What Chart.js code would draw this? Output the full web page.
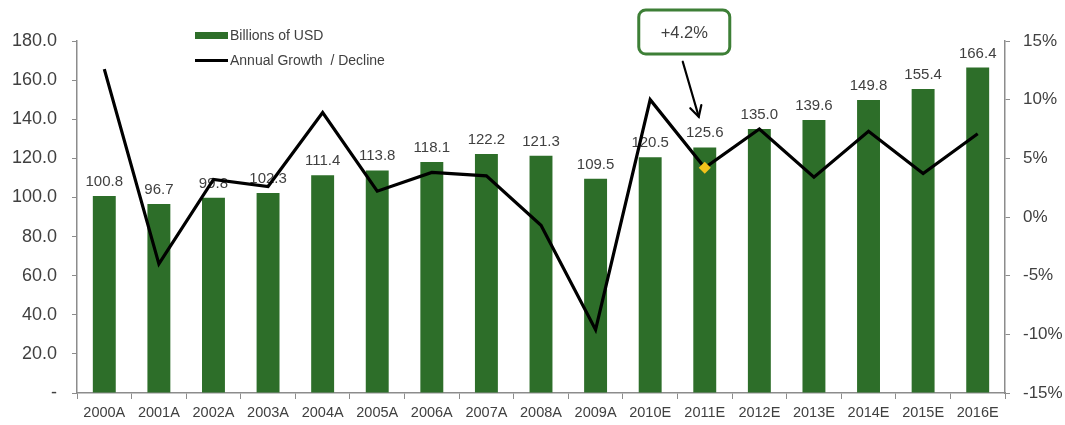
<!DOCTYPE html>
<html>
<head>
<meta charset="utf-8">
<script src="https://cdn.jsdelivr.net/npm/chart.js@4/dist/chart.umd.min.js"></script>
<style>
  html, body { margin: 0; padding: 0; background: #ffffff; }
  #wrap { width: 1065px; height: 425px; }
</style>
</head>
<body>
<div id="wrap"><canvas id="chart" width="1065" height="425"></canvas></div>
<script>
// Market size by year (A = actual, E = estimate)
const years = ['2000A','2001A','2002A','2003A','2004A','2005A','2006A','2007A','2008A',
               '2009A','2010E','2011E','2012E','2013E','2014E','2015E','2016E'];
const billionsUSD = [100.8, 96.7, 99.8, 102.3, 111.4, 113.8, 118.1, 122.2, 121.3,
                     109.5, 120.5, 125.6, 135.0, 139.6, 149.8, 155.4, 166.4];
const growthPct = [12.6, -4.0, 3.2, 2.6, 8.9, 2.2, 3.8, 3.5, -0.7,
                   -9.6, 10.0, 4.2, 7.5, 3.4, 7.3, 3.7, 7.1];
const highlightIndex = 11;
const leftTicks = [0, 20, 40, 60, 80, 100, 120, 140, 160, 180];
const rightTicks = [-15, -10, -5, 0, 5, 10, 15];

const GREEN = '#2d6e29';
const TEXT = '#404040';
const AXIS = '#8c8c8c';
const FONT = '"Liberation Sans", Arial, sans-serif';

// Value labels above each bar (drawn before the line so the line sits on top)
const barLabels = {
  id: 'barLabels',
  afterDatasetDraw(chart, args) {
    if (args.index !== 0) return;
    const ctx = chart.ctx;
    ctx.save();
    ctx.font = '15px ' + FONT;
    ctx.fillStyle = TEXT;
    ctx.textAlign = 'center';
    ctx.textBaseline = 'alphabetic';
    args.meta.data.forEach((bar, i) => {
      ctx.fillText(billionsUSD[i].toFixed(1), bar.x, bar.y - 10);
    });
    ctx.restore();
  }
};

// Legend in the upper left of the plot
const legendBox = {
  id: 'legendBox',
  afterDraw(chart) {
    const ctx = chart.ctx;
    ctx.save();
    ctx.font = '14px ' + FONT;
    ctx.textBaseline = 'middle';
    ctx.textAlign = 'left';
    ctx.fillStyle = GREEN;
    ctx.fillRect(195, 32, 33, 7);
    ctx.fillStyle = '#000';
    ctx.fillRect(195, 59, 33, 3);
    ctx.fillStyle = TEXT;
    ctx.fillText('Billions of USD', 230, 36);
    ctx.fillText('Annual Growth  / Decline', 230, 61);
    ctx.restore();
  }
};

// Callout pointing at the highlighted growth point
const callout = {
  id: 'callout',
  afterDraw(chart) {
    const ctx = chart.ctx;
    const x = chart.scales.x.getPixelForValue(highlightIndex);
    const y = chart.scales.y2.getPixelForValue(growthPct[highlightIndex]);
    const tipX = x - 6, tipY = y - 51;
    const startX = x - 22, startY = y - 106;
    ctx.save();
    // box
    const bx = x - 66, by = 10, bw = 91, bh = 44, r = 7;
    ctx.beginPath();
    ctx.moveTo(bx + r, by);
    ctx.arcTo(bx + bw, by, bx + bw, by + bh, r);
    ctx.arcTo(bx + bw, by + bh, bx, by + bh, r);
    ctx.arcTo(bx, by + bh, bx, by, r);
    ctx.arcTo(bx, by, bx + bw, by, r);
    ctx.closePath();
    ctx.fillStyle = '#fff';
    ctx.fill();
    ctx.lineWidth = 3;
    ctx.strokeStyle = '#3d7f36';
    ctx.stroke();
    ctx.font = '16.5px ' + FONT;
    ctx.fillStyle = TEXT;
    ctx.textAlign = 'center';
    ctx.textBaseline = 'middle';
    const v = growthPct[highlightIndex];
    ctx.fillText((v >= 0 ? '+' : '') + v.toFixed(1) + '%', bx + bw / 2, by + bh / 2 + 1);
    // arrow
    ctx.strokeStyle = '#000';
    ctx.lineWidth = 2.2;
    ctx.lineCap = 'round';
    ctx.beginPath();
    ctx.moveTo(startX, startY);
    ctx.lineTo(tipX, tipY);
    ctx.stroke();
    const ang = Math.atan2(tipY - startY, tipX - startX);
    const hl = 12, spread = 0.5;
    ctx.beginPath();
    ctx.moveTo(tipX - hl * Math.cos(ang - spread), tipY - hl * Math.sin(ang - spread));
    ctx.lineTo(tipX, tipY);
    ctx.lineTo(tipX - hl * Math.cos(ang + spread), tipY - hl * Math.sin(ang + spread));
    ctx.stroke();
    ctx.restore();
  }
};

const pointRadii = growthPct.map((_, i) => (i === highlightIndex ? 6 : 0));

new Chart(document.getElementById('chart'), {
  data: {
    labels: years,
    datasets: [
      {
        type: 'bar',
        label: 'Billions of USD',
        data: billionsUSD,
        backgroundColor: GREEN,
        borderWidth: 0,
        categoryPercentage: 1.0,
        barPercentage: 0.42,
        yAxisID: 'y',
        order: 1
      },
      {
        type: 'line',
        label: 'Annual Growth / Decline',
        data: growthPct,
        borderColor: '#000',
        borderWidth: 3.2,
        tension: 0,
        fill: false,
        pointStyle: 'rectRot',
        pointRadius: pointRadii,
        pointHoverRadius: pointRadii,
        pointBackgroundColor: '#f2c21b',
        pointBorderColor: '#f2c21b',
        pointBorderWidth: 0,
        yAxisID: 'y2',
        order: 0
      }
    ]
  },
  options: {
    responsive: false,
    animation: false,
    events: [],
    layout: { padding: { top: 41, left: 0, right: 0, bottom: 0 } },
    plugins: {
      legend: { display: false },
      tooltip: { enabled: false }
    },
    scales: {
      x: {
        grid: { display: true, drawOnChartArea: false, drawTicks: true, tickLength: 6, color: AXIS, offset: true },
        border: { display: true, color: AXIS, width: 1.5 },
        ticks: { color: TEXT, font: { family: FONT, size: 14.5 }, padding: 5, maxRotation: 0, autoSkip: false },
        afterFit(scale) { scale.height = 32; }
      },
      y: {
        position: 'left',
        min: 0,
        max: 180,
        afterBuildTicks(scale) { scale.ticks = leftTicks.map(v => ({ value: v })); },
        grid: { drawOnChartArea: false, drawTicks: true, tickLength: 5, color: AXIS },
        border: { display: true, color: AXIS, width: 1.5 },
        ticks: {
          color: TEXT,
          font: { family: FONT, size: 18 },
          padding: 15,
          callback: v => (v === 0 ? '-' : v.toFixed(1))
        },
        afterFit(scale) { scale.width = 77; }
      },
      y2: {
        position: 'right',
        min: -15,
        max: 15,
        afterBuildTicks(scale) { scale.ticks = rightTicks.map(v => ({ value: v })); },
        grid: { drawOnChartArea: false, drawTicks: true, tickLength: 5, color: AXIS },
        border: { display: true, color: AXIS, width: 1.5 },
        ticks: {
          color: TEXT,
          font: { family: FONT, size: 17 },
          padding: 13,
          callback: v => v + '%'
        },
        afterFit(scale) { scale.width = 60; }
      }
    }
  },
  plugins: [barLabels, legendBox, callout]
});
</script>
</body>
</html>
